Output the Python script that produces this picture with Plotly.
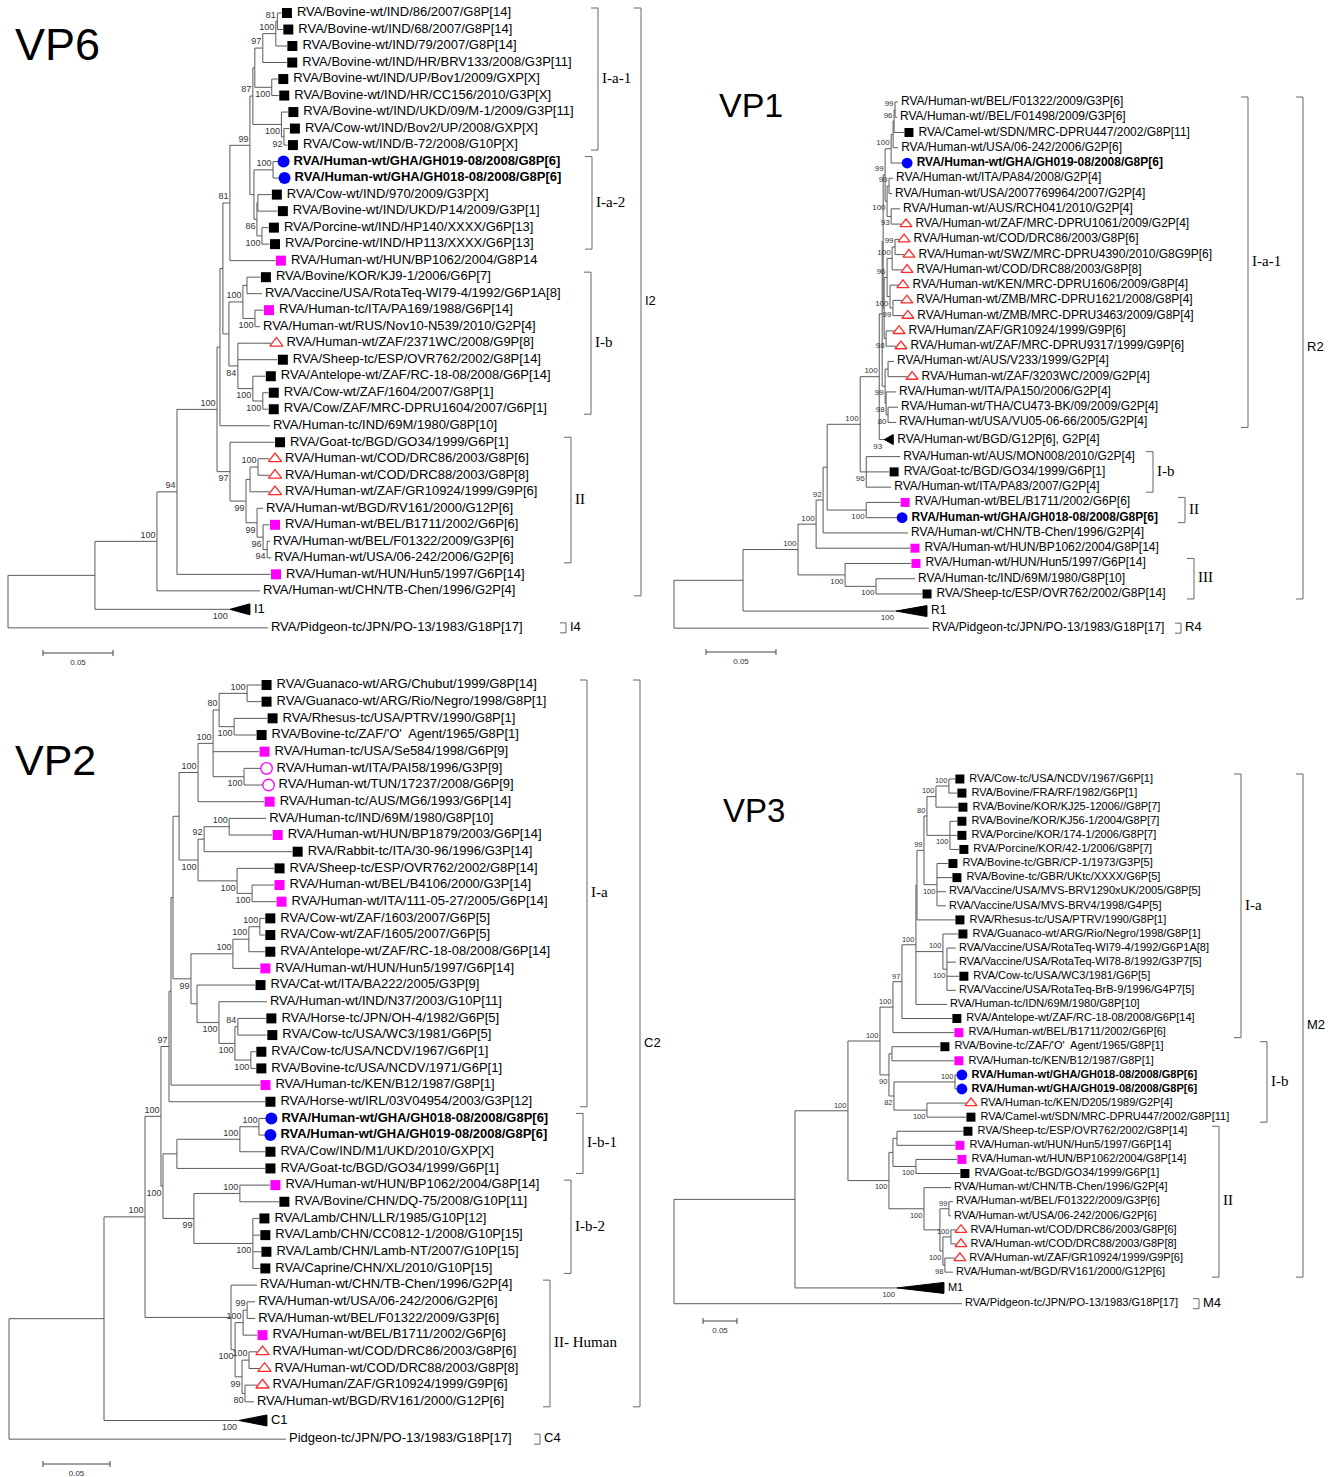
import plotly.graph_objects as go

# ===================== DATA =====================
# Trees in Newick form. Leaf names are indices into the *_LEAVES lists,
# internal labels are bootstrap values (%), branch lengths are in
# units of 0.001 nucleotide substitutions per site.

VP6_NEWICK = (
    "((((((((((((((0:2.9,1:3.9)81:1.1,2:7.9)100:9.3,3:17.1)97:5.7,(4:4.3,5:5.0)100:12.1):1.4,"
    "(6:4.6,(7:3.9,8:2.5)92:1.8)100:20.4)87:2.1,((9:3.6,10:4.3)100:13.6,((11:9.6,12:13.9):0.7,"
    "(13:4.6,14:5.4)100:3.6)86:2.1):2.9)99:14.3,15:32.5)81:5.0,(((16:9.6,17:10.7):2.9,"
    "(18:6.1,19:3.6)100:8.6)100:10.0,(20:23.6,21:28.2,(22:8.9,(23:3.9,24:3.9)100:7.1)100:10.7)84:6.4):4.3):2.1,"
    "25:35.7):2.1,(26:31.8,(((27:8.2,28:8.2)100:5.7,29:13.9):2.9,(30:4.3,(31:4.6,(32:2.1,33:2.9)94:2.9)96:4.3)99:7.9)99:11.4)97:9.3)100:28.6,"
    "34:66.8)94:14.3,35:73.6)100:44.3,36:96.4):62.1,37:185.7);"
)
VP6_LEAVES = [
    "RVA/Bovine-wt/IND/86/2007/G8P[14]", "RVA/Bovine-wt/IND/68/2007/G8P[14]",
    "RVA/Bovine-wt/IND/79/2007/G8P[14]", "RVA/Bovine-wt/IND/HR/BRV133/2008/G3P[11]",
    "RVA/Bovine-wt/IND/UP/Bov1/2009/GXP[X]", "RVA/Bovine-wt/IND/HR/CC156/2010/G3P[X]",
    "RVA/Bovine-wt/IND/UKD/09/M-1/2009/G3P[11]", "RVA/Cow-wt/IND/Bov2/UP/2008/GXP[X]",
    "RVA/Cow-wt/IND/B-72/2008/G10P[X]", "RVA/Human-wt/GHA/GH019-08/2008/G8P[6]",
    "RVA/Human-wt/GHA/GH018-08/2008/G8P[6]", "RVA/Cow-wt/IND/970/2009/G3P[X]",
    "RVA/Bovine-wt/IND/UKD/P14/2009/G3P[1]", "RVA/Porcine-wt/IND/HP140/XXXX/G6P[13]",
    "RVA/Porcine-wt/IND/HP113/XXXX/G6P[13]", "RVA/Human-wt/HUN/BP1062/2004/G8P14",
    "RVA/Bovine/KOR/KJ9-1/2006/G6P[7]", "RVA/Vaccine/USA/RotaTeq-WI79-4/1992/G6P1A[8]",
    "RVA/Human-tc/ITA/PA169/1988/G6P[14]", "RVA/Human-wt/RUS/Nov10-N539/2010/G2P[4]",
    "RVA/Human-wt/ZAF/2371WC/2008/G9P[8]", "RVA/Sheep-tc/ESP/OVR762/2002/G8P[14]",
    "RVA/Antelope-wt/ZAF/RC-18-08/2008/G6P[14]", "RVA/Cow-wt/ZAF/1604/2007/G8P[1]",
    "RVA/Cow/ZAF/MRC-DPRU1604/2007/G6P[1]", "RVA/Human-tc/IND/69M/1980/G8P[10]",
    "RVA/Goat-tc/BGD/GO34/1999/G6P[1]", "RVA/Human-wt/COD/DRC86/2003/G8P[6]",
    "RVA/Human-wt/COD/DRC88/2003/G8P[8]", "RVA/Human-wt/ZAF/GR10924/1999/G9P[6]",
    "RVA/Human-wt/BGD/RV161/2000/G12P[6]", "RVA/Human-wt/BEL/B1711/2002/G6P[6]",
    "RVA/Human-wt/BEL/F01322/2009/G3P[6]", "RVA/Human-wt/USA/06-242/2006/G2P[6]",
    "RVA/Human-wt/HUN/Hun5/1997/G6P[14]", "RVA/Human-wt/CHN/TB-Chen/1996/G2P[4]",
    "I1", "RVA/Pidgeon-tc/JPN/PO-13/1983/G18P[17]",
]
# B black square, M magenta square, C blue circle (study strain), T red open triangle,
# O magenta open circle, K collapsed clade, - none
VP6_MARKS = "BBBBBBBBBCCBBBBMB-M-TBBBB-BTTT-M--M-K-"
VP6_COLLAPSED = {36: (14.3, "100")}          # leaf -> (clade depth x0.001, bootstrap)
VP6_CLADES = [("I-a-1", 0, 8, "in"), ("I-a-2", 9, 14, "in"), ("I-b", 16, 24, "in"),
              ("II", 26, 33, "in"), ("I2", 0, 35, "out"), ("I4", 37, 37, "out")]

VP1_NEWICK = (
    "(((((((((((((((0:2.1,1:1.4)99:0.7,2:7.1)96:0.7,3:3.6):1.4,4:7.9)100:4.3,"
    "((5:2.9,6:2.1)90:1.4,(7:6.4,8:7.1)93:2.9)100:1.4)99:1.4,"
    "((((9:2.9,10:6.4)99:2.1,11:7.1)100:3.6,(12:5.7,(13:6.4,14:7.1)99:2.1)100:2.1)96:2.1,"
    "(15:5.7,16:7.1)98:1.4):0.7):0.7,((17:4.3,18:13.6):2.1,(19:7.1,(20:7.1,21:5.7)80:1.4)98:0.7)99:2.1):2.1,"
    "22:3.6)100:13.6,(23:24.3,24:16.4,25:17.9)96:4.3)100:23.6,(26:24.3,27:22.1)100:27.9):2.9,"
    "28:60.7)92:5.0,29:67.1)100:12.9,(30:47.1,(31:27.9,32:32.9)100:22.1)100:33.6)100:39.3,"
    "33:109.3):49.3,34:182.1);"
)
VP1_LEAVES = [
    "RVA/Human-wt/BEL/F01322/2009/G3P[6]", "RVA/Human-wt//BEL/F01498/2009/G3P[6]",
    "RVA/Camel-wt/SDN/MRC-DPRU447/2002/G8P[11]", "RVA/Human-wt/USA/06-242/2006/G2P[6]",
    "RVA/Human-wt/GHA/GH019-08/2008/G8P[6]", "RVA/Human-wt/ITA/PA84/2008/G2P[4]",
    "RVA/Human-wt/USA/2007769964/2007/G2P[4]", "RVA/Human-wt/AUS/RCH041/2010/G2P[4]",
    "RVA/Human-wt/ZAF/MRC-DPRU1061/2009/G2P[4]", "RVA/Human-wt/COD/DRC86/2003/G8P[6]",
    "RVA/Human-wt/SWZ/MRC-DPRU4390/2010/G8G9P[6]", "RVA/Human-wt/COD/DRC88/2003/G8P[8]",
    "RVA/Human-wt/KEN/MRC-DPRU1606/2009/G8P[4]", "RVA/Human-wt/ZMB/MRC-DPRU1621/2008/G8P[4]",
    "RVA/Human-wt/ZMB/MRC-DPRU3463/2009/G8P[4]", "RVA/Human/ZAF/GR10924/1999/G9P[6]",
    "RVA/Human-wt/ZAF/MRC-DPRU9317/1999/G9P[6]", "RVA/Human-wt/AUS/V233/1999/G2P[4]",
    "RVA/Human-wt/ZAF/3203WC/2009/G2P[4]", "RVA/Human-wt/ITA/PA150/2006/G2P[4]",
    "RVA/Human-wt/THA/CU473-BK/09/2009/G2P[4]", "RVA/Human-wt/USA/VU05-06-66/2005/G2P[4]",
    "RVA/Human-wt/BGD/G12P[6], G2P[4]", "RVA/Human-wt/AUS/MON008/2010/G2P[4]",
    "RVA/Goat-tc/BGD/GO34/1999/G6P[1]", "RVA/Human-wt/ITA/PA83/2007/G2P[4]",
    "RVA/Human-wt/BEL/B1711/2002/G6P[6]", "RVA/Human-wt/GHA/GH018-08/2008/G8P[6]",
    "RVA/Human-wt/CHN/TB-Chen/1996/G2P[4]", "RVA/Human-wt/HUN/BP1062/2004/G8P[14]",
    "RVA/Human-wt/HUN/Hun5/1997/G6P[14]", "RVA/Human-tc/IND/69M/1980/G8P[10]",
    "RVA/Sheep-tc/ESP/OVR762/2002/G8P[14]", "R1", "RVA/Pidgeon-tc/JPN/PO-13/1983/G18P[17]",
]
VP1_MARKS = "--B-C---TTTTTTTTT-T---K-B-MC-MM-BK-"
VP1_COLLAPSED = {22: (6.4, "93"), 33: (22.1, "100")}
VP1_CLADES = [("I-a-1", 0, 21, "in"), ("I-b", 23, 25, "in"), ("II", 26, 27, "in"),
              ("III", 30, 32, "in"), ("R2", 0, 32, "out"), ("R4", 34, 34, "out")]

VP2_NEWICK = (
    "((((((((((((0:10.4,1:10.4)100:20.9,(2:24.6,3:16.4)100:11.2)80:4.5,4:34.3,(5:12.7,6:14.2)100:23.1)100:11.2,"
    "7:49.3)100:14.2,(((8:27.6,9:32.1)100:18.7,10:65.7)92:4.5,(11:27.6,(12:16.4,13:17.9)100:11.2)100:29.1)100:14.2):4.5,"
    "((((14:3.7,15:3.7)100:8.2,16:11.9)100:11.9,17:20.1)100:31.3,(18:43.3,(19:35.8,((20:20.9,21:21.6)84:2.2,"
    "(22:3.7,23:3.7)100:11.9)100:11.9)100:16.4):4.5)99:13.4):1.5,24:66.4):1.5,25:71.6)97:6.0,"
    "((((26:5.2,27:4.5)100:14.2,28:18.7)100:47.0,29:65.7):10.4,((30:22.4,31:29.1)100:34.3,"
    "(32:4.5,33:5.2,34:6.0,35:5.2)100:44.0)99:23.1)100:1.5)100:11.9,(36:19.4,(((37:6.0,38:6.0)99:3.0,39:10.4)100:6.0,"
    "((40:6.0,41:7.5)100:5.2,(42:9.0,43:6.7)80:2.2)99:5.2)100:3.0):64.2)100:30.6,44:100.7):70.9,45:206.7);"
)
VP2_LEAVES = [
    "RVA/Guanaco-wt/ARG/Chubut/1999/G8P[14]", "RVA/Guanaco-wt/ARG/Rio/Negro/1998/G8P[1]",
    "RVA/Rhesus-tc/USA/PTRV/1990/G8P[1]", "RVA/Bovine-tc/ZAF/'O'\u00a0 Agent/1965/G8P[1]",
    "RVA/Human-tc/USA/Se584/1998/G6P[9]", "RVA/Human-wt/ITA/PAI58/1996/G3P[9]",
    "RVA/Human-wt/TUN/17237/2008/G6P[9]", "RVA/Human-tc/AUS/MG6/1993/G6P[14]",
    "RVA/Human-tc/IND/69M/1980/G8P[10]", "RVA/Human-wt/HUN/BP1879/2003/G6P[14]",
    "RVA/Rabbit-tc/ITA/30-96/1996/G3P[14]", "RVA/Sheep-tc/ESP/OVR762/2002/G8P[14]",
    "RVA/Human-wt/BEL/B4106/2000/G3P[14]", "RVA/Human-wt/ITA/111-05-27/2005/G6P[14]",
    "RVA/Cow-wt/ZAF/1603/2007/G6P[5]", "RVA/Cow-wt/ZAF/1605/2007/G6P[5]",
    "RVA/Antelope-wt/ZAF/RC-18-08/2008/G6P[14]", "RVA/Human-wt/HUN/Hun5/1997/G6P[14]",
    "RVA/Cat-wt/ITA/BA222/2005/G3P[9]", "RVA/Human-wt/IND/N37/2003/G10P[11]",
    "RVA/Horse-tc/JPN/OH-4/1982/G6P[5]", "RVA/Cow-tc/USA/WC3/1981/G6P[5]",
    "RVA/Cow-tc/USA/NCDV/1967/G6P[1]", "RVA/Bovine-tc/USA/NCDV/1971/G6P[1]",
    "RVA/Human-tc/KEN/B12/1987/G8P[1]", "RVA/Horse-wt/IRL/03V04954/2003/G3P[12]",
    "RVA/Human-wt/GHA/GH018-08/2008/G8P[6]", "RVA/Human-wt/GHA/GH019-08/2008/G8P[6]",
    "RVA/Cow/IND/M1/UKD/2010/GXP[X]", "RVA/Goat-tc/BGD/GO34/1999/G6P[1]",
    "RVA/Human-wt/HUN/BP1062/2004/G8P[14]", "RVA/Bovine/CHN/DQ-75/2008/G10P[11]",
    "RVA/Lamb/CHN/LLR/1985/G10P[12]", "RVA/Lamb/CHN/CC0812-1/2008/G10P[15]",
    "RVA/Lamb/CHN/Lamb-NT/2007/G10P[15]", "RVA/Caprine/CHN/XL/2010/G10P[15]",
    "RVA/Human-wt/CHN/TB-Chen/1996/G2P[4]", "RVA/Human-wt/USA/06-242/2006/G2P[6]",
    "RVA/Human-wt/BEL/F01322/2009/G3P[6]", "RVA/Human-wt/BEL/B1711/2002/G6P[6]",
    "RVA/Human-wt/COD/DRC86/2003/G8P[6]", "RVA/Human-wt/COD/DRC88/2003/G8P[8]",
    "RVA/Human/ZAF/GR10924/1999/G9P[6]", "RVA/Human-wt/BGD/RV161/2000/G12P[6]",
    "C1", "Pidgeon-tc/JPN/PO-13/1983/G18P[17]",
]
VP2_MARKS = "BBBBMOOM-MBBMMBBBMB-BBBBMBCCBBMBBBBB---MTTT-K-"
VP2_COLLAPSED = {44: (20.9, "100")}
VP2_CLADES = [("I-a", 0, 25, "in"), ("I-b-1", 26, 29, "in"), ("I-b-2", 30, 35, "in"),
              ("II- Human", 36, 43, "in"), ("C2", 0, 43, "out"), ("C4", 45, 45, "out")]

VP3_NEWICK = (
    "((((((((((((0:8.8,1:11.8)100:19.1,2:32.4)100:13.2,(3:10.3,4:10.3,5:13.2)100:33.8)80:4.4,"
    "(6:16.2,7:22.1,8:13.2,9:13.2)100:19.1)99:10.3,10:55.9):1.5,(11:22.1,(12:13.2,13:13.2,14:17.6,15:13.2)100:5.9)100:39.7,"
    "16:45.6)100:20.6,17:73.5)97:13.2,18:89.7)100:19.1,((19:70.6,20:91.2):4.4,((21:2.9,22:2.9)100:89.7,"
    "(23:57.4,24:57.4)100:48.5)82:7.4)90:13.2)100:47.1,(((25:97.1,26:85.3):5.9,(27:60.3,28:64.7)100:33.8):5.9,"
    "(29:39.7,((30:5.9,31:2.9)99:13.2,((32:7.4,33:7.4)100:11.8,(34:14.7,35:11.8)98:2.9)100:4.4):23.5)100:51.5)100:60.3)100:77.9,"
    "36:150.0):177.9,37:423.5);"
)
VP3_LEAVES = [
    "RVA/Cow-tc/USA/NCDV/1967/G6P[1]", "RVA/Bovine/FRA/RF/1982/G6P[1]",
    "RVA/Bovine/KOR/KJ25-12006//G8P[7]", "RVA/Bovine/KOR/KJ56-1/2004/G8P[7]",
    "RVA/Porcine/KOR/174-1/2006/G8P[7]", "RVA/Porcine/KOR/42-1/2006/G8P[7]",
    "RVA/Bovine-tc/GBR/CP-1/1973/G3P[5]", "RVA/Bovine-tc/GBR/UKtc/XXXX/G6P[5]",
    "RVA/Vaccine/USA/MVS-BRV1290xUK/2005/G8P[5]", "RVA/Vaccine/USA/MVS-BRV4/1998/G4P[5]",
    "RVA/Rhesus-tc/USA/PTRV/1990/G8P[1]", "RVA/Guanaco-wt/ARG/Rio/Negro/1998/G8P[1]",
    "RVA/Vaccine/USA/RotaTeq-WI79-4/1992/G6P1A[8]", "RVA/Vaccine/USA/RotaTeq-WI78-8/1992/G3P7[5]",
    "RVA/Cow-tc/USA/WC3/1981/G6P[5]", "RVA/Vaccine/USA/RotaTeq-BrB-9/1996/G4P7[5]",
    "RVA/Human-tc/IDN/69M/1980/G8P[10]", "RVA/Antelope-wt/ZAF/RC-18-08/2008/G6P[14]",
    "RVA/Human-wt/BEL/B1711/2002/G6P[6]", "RVA/Bovine-tc/ZAF/'O'\u00a0 Agent/1965/G8P[1]",
    "RVA/Human-tc/KEN/B12/1987/G8P[1]", "RVA/Human-wt/GHA/GH018-08/2008/G8P[6]",
    "RVA/Human-wt/GHA/GH019-08/2008/G8P[6]", "RVA/Human-tc/KEN/D205/1989/G2P[4]",
    "RVA/Camel-wt/SDN/MRC-DPRU447/2002/G8P[11]", "RVA/Sheep-tc/ESP/OVR762/2002/G8P[14]",
    "RVA/Human-wt/HUN/Hun5/1997/G6P[14]", "RVA/Human-wt/HUN/BP1062/2004/G8P[14]",
    "RVA/Goat-tc/BGD/GO34/1999/G6P[1]", "RVA/Human-wt/CHN/TB-Chen/1996/G2P[4]",
    "RVA/Human-wt/BEL/F01322/2009/G3P[6]", "RVA/Human-wt/USA/06-242/2006/G2P[6]",
    "RVA/Human-wt/COD/DRC86/2003/G8P[6]", "RVA/Human-wt/COD/DRC88/2003/G8P[8]",
    "RVA/Human-wt/ZAF/GR10924/1999/G9P[6]", "RVA/Human-wt/BGD/RV161/2000/G12P[6]",
    "M1", "RVA/Pidgeon-tc/JPN/PO-13/1983/G18P[17]",
]
VP3_MARKS = "BBBBBBBB--BB--B--BMBMCCTBBMMB---TTT-K-"
VP3_COLLAPSED = {36: (69.1, "100")}
VP3_CLADES = [("I-a", 0, 18, "in"), ("I-b", 19, 24, "in"), ("II", 25, 35, "in"),
              ("M2", 0, 35, "out"), ("M4", 37, 37, "out")]

SCALE_BAR = 0.05

# ===================== LAYOUT (pixel placement of each panel) =====================
W, H = 1330, 1477
PANELS = [
    dict(name="VP6", newick=VP6_NEWICK, leaves=VP6_LEAVES, marks=VP6_MARKS, coll=VP6_COLLAPSED,
         clades=VP6_CLADES, clade_x=[598, 592, 591, 571, 641, 566],
         x0=8, k=1400, y0=13, dy=16.51, dom=(0, 660, 0, 670), font=13, boot=9, ms=10,
         title=(13, 44, 45), bar=(43, 653), up=-6, down=7.5),
    dict(name="VP1", newick=VP1_NEWICK, leaves=VP1_LEAVES, marks=VP1_MARKS, coll=VP1_COLLAPSED,
         clades=VP1_CLADES, clade_x=[1248, 1153, 1185, 1194, 1303, 1181],
         x0=674, k=1400, y0=102, dy=15.26, dom=(660, 1330, 0, 670), font=12, boot=8, ms=9,
         title=(717, 105, 34), bar=(706, 652), up=-5.5, down=7),
    dict(name="VP2", newick=VP2_NEWICK, leaves=VP2_LEAVES, marks=VP2_MARKS, coll=VP2_COLLAPSED,
         clades=VP2_CLADES, clade_x=[587, 583, 571, 550, 640, 540],
         x0=9, k=1340, y0=685, dy=16.67, dom=(0, 660, 670, 1477), font=13, boot=9, ms=10,
         title=(13, 760, 43), bar=(43, 1464), up=-6, down=7.5),
    dict(name="VP3", newick=VP3_NEWICK, leaves=VP3_LEAVES, marks=VP3_MARKS, coll=VP3_COLLAPSED,
         clades=VP3_CLADES, clade_x=[1241, 1267, 1219, 1303, 1199],
         x0=674, k=680, y0=779, dy=14.09, dom=(660, 1330, 670, 1477), font=11, boot=7.5, ms=9,
         title=(721, 810, 33), bar=(703, 1321), up=-5, down=7),
]
COLLAPSED_PAD = 0.12   # extra row space MEGA leaves above and below a collapsed clade

SANS = "Liberation Sans, Arial, sans-serif"
SERIF = "Liberation Serif, Times New Roman, serif"
LINE = "#5a5a5a"


def parse_newick(s):
    s = s.strip().rstrip(";")
    pos = 0

    def read():
        nonlocal pos
        node = {"ch": [], "name": "", "bl": 0.0}
        if s[pos] == "(":
            pos += 1
            while True:
                node["ch"].append(read())
                c = s[pos]
                pos += 1
                if c == ")":
                    break
        st = pos
        while pos < len(s) and s[pos] not in ":,)":
            pos += 1
        node["name"] = s[st:pos]
        if pos < len(s) and s[pos] == ":":
            pos += 1
            st = pos
            while pos < len(s) and s[pos] not in ",)":
                pos += 1
            node["bl"] = float(s[st:pos])
        return node

    return read()


def row_positions(marks):
    rows, pos = [], 0.0
    for c in marks:
        if c == "K":
            pos += COLLAPSED_PAD
        rows.append(pos)
        if c == "K":
            pos += COLLAPSED_PAD
        pos += 1.0
    return rows


def place(node, px, role, rows):
    node["x"] = px + node["bl"] * 1e-3
    node["role"] = role
    n = len(node["ch"])
    for i, c in enumerate(node["ch"]):
        place(c, node["x"], "first" if i == 0 else ("last" if i == n - 1 else "mid"), rows)
    if n:
        node["y"] = (node["ch"][0]["y"] + node["ch"][-1]["y"]) / 2.0
    else:
        node["y"] = rows[int(node["name"])]


def walk(node):
    yield node
    for c in node["ch"]:
        yield from walk(c)


MARK_STYLE = {
    "B": dict(symbol="square", color="black", line=dict(width=0)),
    "M": dict(symbol="square", color="#ff00ff", line=dict(width=0)),
    "C": dict(symbol="circle", color="#0000ff", line=dict(width=0)),
    "T": dict(symbol="triangle-up-open", color="#ff2a2a", line=dict(width=1.3, color="#ff2a2a")),
    "O": dict(symbol="circle-open", color="#ff00ff", line=dict(width=1.3, color="#ff00ff")),
}
MARK_SCALE = {"B": 1.0, "M": 1.0, "C": 1.2, "T": 1.15, "O": 1.15}

fig = go.Figure()
annotations = []

for pi, P in enumerate(PANELS):
    sfx = "" if pi == 0 else str(pi + 1)
    xa, ya = "x" + sfx, "y" + sfx
    x0, k, y0, dy = P["x0"], P["k"], P["y0"], P["dy"]
    L, R, T, B = P["dom"]

    def ux(px):
        return px / k

    def uy(px):
        return px / dy

    def dx(px_abs):
        return (px_abs - x0) / k

    def dyy(py_abs):
        return (py_abs - y0) / dy

    rows = row_positions(P["marks"])
    root = parse_newick(P["newick"])
    place(root, 0.0, "root", rows)
    nodes = list(walk(root))

    # ---- branches
    bx, by = [], []
    for n in nodes:
        if n["ch"]:
            bx += [n["x"], n["x"], None]
            by += [n["ch"][0]["y"], n["ch"][-1]["y"], None]
            for c in n["ch"]:
                bx += [n["x"], c["x"], None]
                by += [c["y"], c["y"], None]
    fig.add_trace(go.Scatter(x=bx, y=by, mode="lines", line=dict(color=LINE, width=1),
                             xaxis=xa, yaxis=ya, hoverinfo="skip", showlegend=False))

    # ---- leaves
    ms = P["ms"]
    mgap = 0.55 * ms
    tgap = mgap + 0.5 * ms + 5
    mk = {}
    tx, ty, tt = [], [], []
    tri_x, tri_y = [], []
    sx, sy, st = [], [], []
    for n in nodes:
        if n["ch"]:
            continue
        i = int(n["name"])
        code = P["marks"][i]
        label = P["leaves"][i]
        if code == "C":
            label = "<b>" + label + "</b>"
        if code == "K":
            depth, sup = P["coll"][i]
            w = depth * 1e-3
            h = uy(11 if depth > 10 else 10)
            tri_x += [n["x"], n["x"] + w, n["x"] + w, n["x"], None]
            tri_y += [n["y"], n["y"] - h / 2, n["y"] + h / 2, n["y"], None]
            tx.append(n["x"] + w + ux(4))
            sx.append(n["x"] - ux(2))
            sy.append(n["y"] + uy(P["down"]))
            st.append(sup)
        elif code == "-":
            tx.append(n["x"] + ux(3))
        else:
            mk.setdefault(code, ([], []))
            mk[code][0].append(n["x"] + ux(mgap))
            mk[code][1].append(n["y"])
            tx.append(n["x"] + ux(tgap))
        ty.append(n["y"])
        tt.append(label)

    if tri_x:
        fig.add_trace(go.Scatter(x=tri_x, y=tri_y, mode="lines", fill="toself", fillcolor="black",
                                 line=dict(color="black", width=1), xaxis=xa, yaxis=ya,
                                 hoverinfo="skip", showlegend=False))
    for code, (mx, my) in mk.items():
        stl = MARK_STYLE[code]
        fig.add_trace(go.Scatter(x=mx, y=my, mode="markers", xaxis=xa, yaxis=ya,
                                 marker=dict(symbol=stl["symbol"], color=stl["color"],
                                             size=ms * MARK_SCALE[code], line=stl["line"]),
                                 hoverinfo="skip", showlegend=False, cliponaxis=False))
    fig.add_trace(go.Scatter(x=tx, y=ty, text=tt, mode="text", textposition="middle right",
                             textfont=dict(family=SANS, size=P["font"], color="black"),
                             xaxis=xa, yaxis=ya, hoverinfo="skip", showlegend=False, cliponaxis=False))

    # ---- bootstrap values
    for n in nodes:
        if n["ch"] and n["name"] and n["role"] != "root":
            off = P["down"] if n["role"] == "last" else P["up"]
            sx.append(n["x"] - ux(1.5))
            sy.append(n["y"] + uy(off))
            st.append(n["name"])
    fig.add_trace(go.Scatter(x=sx, y=sy, text=st, mode="text", textposition="middle left",
                             textfont=dict(family=SANS, size=P["boot"], color="#333333"),
                             xaxis=xa, yaxis=ya, hoverinfo="skip", showlegend=False, cliponaxis=False))

    # ---- clade brackets
    cx, cy = [], []
    lx, ly, lt_in, lt_out = [], [], [], []
    for (name, a, b, kind), xpx in zip(P["clades"], P["clade_x"]):
        xb = dx(xpx)
        top = rows[a] - uy(5)
        bot = rows[b] + uy(5)
        tick = ux(7 if a != b else 6)
        cx += [xb - tick, xb, xb, xb - tick, None]
        cy += [top, top, bot, bot, None]
        lx.append(xb + ux(4))
        ly.append((top + bot) / 2)
        lt_in.append(name if kind == "in" else "")
        lt_out.append(name if kind == "out" else "")
    fig.add_trace(go.Scatter(x=cx, y=cy, mode="lines", line=dict(color="#666666", width=1),
                             xaxis=xa, yaxis=ya, hoverinfo="skip", showlegend=False))
    fig.add_trace(go.Scatter(x=lx, y=ly, text=lt_in, mode="text", textposition="middle right",
                             textfont=dict(family=SERIF, size=15, color="black"),
                             xaxis=xa, yaxis=ya, hoverinfo="skip", showlegend=False, cliponaxis=False))
    fig.add_trace(go.Scatter(x=lx, y=ly, text=lt_out, mode="text", textposition="middle right",
                             textfont=dict(family=SANS, size=13, color="black"),
                             xaxis=xa, yaxis=ya, hoverinfo="skip", showlegend=False, cliponaxis=False))

    # ---- scale bar
    bxp, byp = P["bar"]
    sb0 = dx(bxp)
    sby = dyy(byp)
    fig.add_trace(go.Scatter(
        x=[sb0, sb0 + SCALE_BAR, None, sb0, sb0, None, sb0 + SCALE_BAR, sb0 + SCALE_BAR],
        y=[sby, sby, None, sby - uy(3), sby + uy(3), None, sby - uy(3), sby + uy(3)],
        mode="lines", line=dict(color="#444444", width=1), xaxis=xa, yaxis=ya,
        hoverinfo="skip", showlegend=False))
    fig.add_trace(go.Scatter(x=[sb0 + SCALE_BAR / 2], y=[sby + uy(10)], text=["0.05"], mode="text",
                             textposition="middle center",
                             textfont=dict(family=SANS, size=8, color="#333333"),
                             xaxis=xa, yaxis=ya, hoverinfo="skip", showlegend=False, cliponaxis=False))

    # ---- axes
    fig.layout["xaxis" + sfx] = dict(domain=[L / W, R / W], range=[dx(L), dx(R)], visible=False,
                                     fixedrange=True, anchor=ya)
    fig.layout["yaxis" + sfx] = dict(domain=[1 - B / H, 1 - T / H], range=[dyy(B), dyy(T)],
                                     visible=False, fixedrange=True, anchor=xa)

    # ---- panel title
    tx0, ty0, tsz = P["title"]
    annotations.append(dict(x=tx0 / W, y=1 - ty0 / H, xref="paper", yref="paper", text=P["name"],
                            showarrow=False, xanchor="left", yanchor="middle",
                            font=dict(family=SANS, size=tsz, color="black")))

fig.update_layout(width=W, height=H, margin=dict(l=0, r=0, t=0, b=0),
                  paper_bgcolor="white", plot_bgcolor="rgba(0,0,0,0)",
                  showlegend=False, annotations=annotations)

fig.write_html("out.html", config={"displayModeBar": False},
               post_script="document.body.style.margin='0';")
